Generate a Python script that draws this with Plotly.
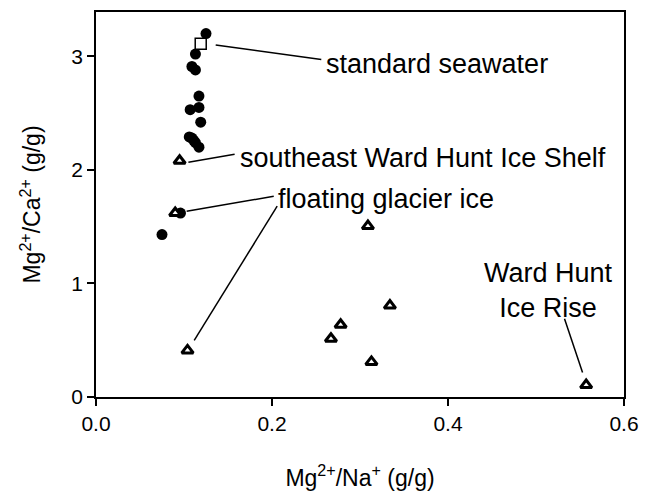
import plotly.graph_objects as go

# ---- data ----
circle_x = [0.125, 0.113, 0.109, 0.113, 0.117, 0.117, 0.107, 0.119,
            0.106, 0.109, 0.111, 0.113, 0.117, 0.096, 0.075]
circle_y = [3.20, 3.02, 2.91, 2.88, 2.65, 2.55, 2.53, 2.42,
            2.29, 2.28, 2.26, 2.24, 2.20, 1.62, 1.43]

triangle_x = [0.095, 0.090, 0.104, 0.309, 0.334, 0.278, 0.267, 0.313, 0.557]
triangle_y = [2.08, 1.62, 0.41, 1.505, 0.805, 0.636, 0.513, 0.309, 0.105]

seawater_x = [0.119]
seawater_y = [3.11]

x_ticks = [0.0, 0.2, 0.4, 0.6]
x_tick_labels = ["0.0", "0.2", "0.4", "0.6"]
y_ticks = [0, 1, 2, 3]
y_tick_labels = ["0", "1", "2", "3"]

label_texts = ["standard seawater", "southeast Ward Hunt Ice Shelf",
               "floating glacier ice", "Ward Hunt<br>Ice Rise"]

# ---- annotation placement (layout, not data) ----
label_pos = [(0.259, 2.935, "left"), (0.161, 2.108, "left"),
             (0.204, 1.741, "left"), (0.514, 0.936, "center")]
leaders = [((0.136, 3.10), (0.256, 2.972)),
           ((0.105, 2.067), (0.1575, 2.137)),
           ((0.103, 1.636), (0.202, 1.767)),
           ((0.1116, 0.499), (0.2059, 1.680)),
           ((0.5324, 0.689), (0.5529, 0.215))]

FONT = "Liberation Sans, Arial, sans-serif"

fig = go.Figure()
fig.add_trace(go.Scatter(x=circle_x, y=circle_y, mode="markers",
                         marker=dict(symbol="circle", size=11, color="black",
                                     line=dict(width=0)),
                         showlegend=False))
fig.add_trace(go.Scatter(x=triangle_x, y=triangle_y, mode="markers",
                         marker=dict(symbol="triangle-up", size=10, color="white",
                                     line=dict(width=3, color="black")),
                         showlegend=False))
fig.add_trace(go.Scatter(x=seawater_x, y=seawater_y, mode="markers",
                         marker=dict(symbol="square", size=11, color="white",
                                     line=dict(width=1.5, color="black")),
                         showlegend=False))

for (p0, p1) in leaders:
    fig.add_shape(type="line", xref="x", yref="y",
                  x0=p0[0], y0=p0[1], x1=p1[0], y1=p1[1],
                  line=dict(color="black", width=1.5))

for text, (lx, ly, anc) in zip(label_texts, label_pos):
    fig.add_annotation(x=lx, y=ly, xref="x", yref="y", text=text,
                       showarrow=False, xanchor=anc, yanchor="middle",
                       align="center",
                       font=dict(family=FONT, size=27, color="black"))

fig.update_layout(
    width=649, height=497,
    margin=dict(l=96, r=17, t=10, b=100),
    paper_bgcolor="white", plot_bgcolor="white",
    font=dict(family=FONT, color="black"),
    xaxis=dict(range=[0, 0.6], tickvals=x_ticks, ticktext=x_tick_labels,
               showgrid=False, zeroline=False, showline=True, linecolor="black",
               linewidth=1.5, mirror=True, ticks="outside", ticklen=7,
               tickwidth=1.5, tickcolor="black",
               tickfont=dict(family=FONT, size=21),
               title=dict(text="Mg<sup>2+</sup>/Na<sup>+</sup> (g/g)",
                          font=dict(family=FONT, size=23), standoff=36)),
    yaxis=dict(range=[0, 3.39], tickvals=y_ticks, ticktext=y_tick_labels,
               showgrid=False, zeroline=False, showline=True, linecolor="black",
               linewidth=1.5, mirror=True, ticks="outside", ticklen=7,
               tickwidth=1.5, tickcolor="black",
               tickfont=dict(family=FONT, size=21),
               title=dict(text="Mg<sup>2+</sup>/Ca<sup>2+</sup> (g/g)",
                          font=dict(family=FONT, size=23), standoff=24)),
)

fig.write_html("out.html",
               config={"displayModeBar": False},
               post_script="document.body.style.margin='0px';"
                           "document.body.style.overflow='hidden';")
